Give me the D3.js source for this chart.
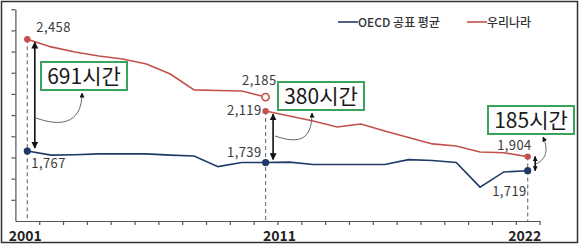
<!DOCTYPE html>
<html>
<head>
<meta charset="utf-8">
<script src="https://cdn.jsdelivr.net/npm/d3@7"></script>
<style>
  body { margin: 0; background: #fff; }
  text { font-family: "Noto Sans CJK KR", "Noto Sans", sans-serif; }
</style>
</head>
<body>
<div class="chart"></div>
<script>
var width = 580,
  height = 246

// data
var years = [2001, 2002, 2003, 2004, 2005, 2006, 2007, 2008, 2009, 2010, 2011,
  2012, 2013, 2014, 2015, 2016, 2017, 2018, 2019, 2020, 2021, 2022]
var korOldYears = years.slice(0, 11)
var korOld = [2458, 2422, 2398, 2379, 2365, 2341, 2294, 2219, 2216, 2214, 2185]
var korNewYears = years.slice(10)
var korNew = [2119, 2096, 2072, 2044, 2058, 2025, 1994, 1964, 1954, 1926, 1922, 1904]
var oecd = [1767, 1757, 1758, 1760, 1760, 1760, 1757, 1755, 1729, 1739, 1739,
  1740, 1734, 1734, 1734, 1734, 1746, 1744, 1739, 1679, 1716, 1719]
var tickYears = [2001, 2011, 2022]
var legendNames = ['OECD 공표 평균', '우리나라']

var red = '#c4504c',
  navy = '#1f3a68',
  green = '#3aa45a'

var svg = d3.select('.chart')
  .append('svg')
  .attr('width', width)
  .attr('height', height)

// outer frame
svg.append('rect')
  .attr('x', 1.5).attr('y', 1.5)
  .attr('width', 576).attr('height', 241)
  .attr('fill', 'none')
  .attr('stroke', '#333')
  .attr('stroke-width', 1.5)

var defs = svg.append('defs')
defs.append('marker')
  .attr('id', 'head')
  .attr('viewBox', '0 0 10 10')
  .attr('refX', 9).attr('refY', 5)
  .attr('markerWidth', 7).attr('markerHeight', 7)
  .attr('markerUnits', 'userSpaceOnUse')
  .attr('orient', 'auto-start-reverse')
  .append('path')
  .attr('d', 'M0,0 L10,5 L0,10 z')
  .attr('fill', '#111')
defs.append('marker')
  .attr('id', 'headSmall')
  .attr('viewBox', '0 0 10 10')
  .attr('refX', 9).attr('refY', 5)
  .attr('markerWidth', 5).attr('markerHeight', 5)
  .attr('markerUnits', 'userSpaceOnUse')
  .attr('orient', 'auto-start-reverse')
  .append('path')
  .attr('d', 'M0,0 L10,5 L0,10 z')
  .attr('fill', '#111')

// SCALES  (the picture draws the two lines on different vertical scales)
var xScale = d3.scaleLinear()
  .domain([2000.5, 2022.5])
  .range([15.4, 539.6])

var yKor = d3.scaleLinear()
  .domain([1600, 2600])
  .range([221, 9.2])

var yOecd = d3.scaleLinear()
  .domain([1600, 2100])
  .range([219.5, 14.5])

// AXES
var xAxis = svg.append('g')
  .attr('transform', 'translate(0,221)')
  .call(d3.axisBottom(xScale)
    .tickValues(d3.range(2001.5, 2023, 1))
    .tickSize(4)
    .tickSizeOuter(0)
    .tickFormat(''))
xAxis.selectAll('path, line').attr('stroke', '#555').attr('stroke-width', 1.2)

var yAxis = svg.append('g')
  .attr('transform', 'translate(15.4,0)')
  .call(d3.axisLeft(yKor)
    .tickValues(d3.range(1700, 2601, 100))
    .tickSize(4)
    .tickSizeOuter(0)
    .tickFormat(''))
yAxis.selectAll('path, line').attr('stroke', '#555').attr('stroke-width', 1.2)

var labelShift = {2001: -2, 2011: 14, 2022: -3}
svg.selectAll('.year')
  .data(tickYears)
  .enter()
  .append('text')
  .attr('x', function(d) { return xScale(d) + labelShift[d] })
  .attr('y', 241)
  .attr('text-anchor', 'middle')
  .attr('font-size', 14)
  .attr('font-weight', 'bold')
  .attr('fill', '#222')
  .text(function(d) { return d })

// dashed guides
var guides = [
  {year: 2001, top: yKor(korOld[0])},
  {year: 2011, top: yKor(korNew[0])},
  {year: 2022, top: yKor(korNew[korNew.length - 1])}
]
svg.selectAll('.guide')
  .data(guides)
  .enter()
  .append('line')
  .attr('x1', function(d) { return xScale(d.year) })
  .attr('x2', function(d) { return xScale(d.year) })
  .attr('y1', function(d) { return d.top })
  .attr('y2', 221)
  .attr('stroke', '#777')
  .attr('stroke-width', 1.2)
  .attr('stroke-dasharray', '4,3')

// LINES
var lineKor = d3.line()
  .x(function(d) { return xScale(d[0]) })
  .y(function(d) { return yKor(d[1]) })
var lineOecd = d3.line()
  .x(function(d) { return xScale(d[0]) })
  .y(function(d) { return yOecd(d[1]) })

svg.append('path')
  .attr('d', lineKor(d3.zip(korOldYears, korOld)))
  .attr('fill', 'none').attr('stroke', red).attr('stroke-width', 1.6)
svg.append('path')
  .attr('d', lineKor(d3.zip(korNewYears, korNew)))
  .attr('fill', 'none').attr('stroke', red).attr('stroke-width', 1.6)
svg.append('path')
  .attr('d', lineOecd(d3.zip(years, oecd)))
  .attr('fill', 'none').attr('stroke', navy).attr('stroke-width', 1.6)

// points
var korDots = [[2001, korOld[0], true], [2011, korOld[10], false], [2011, korNew[0], true], [2022, korNew[11], true]]
svg.selectAll('.kdot')
  .data(korDots)
  .enter()
  .append('circle')
  .attr('cx', function(d) { return xScale(d[0]) })
  .attr('cy', function(d) { return yKor(d[1]) })
  .attr('r', function(d) { return d[2] ? 3.2 : 3.6 })
  .attr('fill', function(d) { return d[2] ? red : '#fff' })
  .attr('stroke', red)
  .attr('stroke-width', function(d) { return d[2] ? 0 : 1.6 })

var oecdDots = [[2001, oecd[0]], [2011, oecd[10]], [2022, oecd[21]]]
svg.selectAll('.odot')
  .data(oecdDots)
  .enter()
  .append('circle')
  .attr('cx', function(d) { return xScale(d[0]) })
  .attr('cy', function(d) { return yOecd(d[1]) })
  .attr('r', 3.6)
  .attr('fill', navy)

// value labels
var fmt = d3.format(',')
var valueLabels = [
  {year: 2001, v: korOld[0], s: yKor, dx: 9, dy: -7, anchor: 'start'},
  {year: 2001, v: oecd[0], s: yOecd, dx: 4, dy: 17, anchor: 'start'},
  {year: 2011, v: korOld[10], s: yKor, dx: 11, dy: -12, anchor: 'end'},
  {year: 2011, v: korNew[0], s: yKor, dx: -4, dy: 4, anchor: 'end'},
  {year: 2011, v: oecd[10], s: yOecd, dx: -4, dy: -6, anchor: 'end'},
  {year: 2022, v: korNew[11], s: yKor, dx: 4, dy: -7, anchor: 'end'},
  {year: 2022, v: oecd[21], s: yOecd, dx: -1, dy: 25, anchor: 'end'}
]
svg.selectAll('.vlab')
  .data(valueLabels)
  .enter()
  .append('text')
  .attr('x', function(d) { return xScale(d.year) + d.dx })
  .attr('y', function(d) { return d.s(d.v) + d.dy })
  .attr('text-anchor', function(d) { return d.anchor })
  .attr('font-size', 13)
  .attr('letter-spacing', 0.4)
  .attr('fill', '#3a3a3a')
  .text(function(d) { return fmt(d.v) })

// gap annotations
var gaps = [
  {year: 2001, hi: korOld[0], lo: oecd[0], inset: 3, head: 'head', bx: 41, by: 62, curve: 'M36,118 C58,126 82,126 82,93'},
  {year: 2011, hi: korNew[0], lo: oecd[10], inset: 3, head: 'head', bx: 278, by: 82, curve: 'M275,136 C296,143 312,143 312,113'},
  {year: 2022, hi: korNew[11], lo: oecd[21], inset: 0, head: 'headSmall', bx: 488, by: 106, curve: 'M536,164 C549,158 547,146 543,137'}
]
svg.selectAll('.gapArrow')
  .data(gaps)
  .enter()
  .append('line')
  .attr('x1', function(d) { return xScale(d.year) + 7.5 })
  .attr('x2', function(d) { return xScale(d.year) + 7.5 })
  .attr('y1', function(d) { return yKor(d.hi) + d.inset })
  .attr('y2', function(d) { return yOecd(d.lo) - d.inset })
  .attr('stroke', '#111')
  .attr('stroke-width', 1.6)
  .attr('marker-start', function(d) { return 'url(#' + d.head + ')' })
  .attr('marker-end', function(d) { return 'url(#' + d.head + ')' })

svg.selectAll('.gapCurve')
  .data(gaps)
  .enter()
  .append('path')
  .attr('d', function(d) { return d.curve })
  .attr('fill', 'none')
  .attr('stroke', '#666')
  .attr('stroke-width', 1)
  .attr('marker-end', 'url(#headSmall)')

var boxes = svg.selectAll('.gapBox')
  .data(gaps)
  .enter()
  .append('g')
  .attr('transform', function(d) { return 'translate(' + d.bx + ',' + d.by + ')' })
boxes.append('rect')
  .attr('width', 86).attr('height', 28)
  .attr('fill', '#fff')
  .attr('stroke', green)
  .attr('stroke-width', 2)
boxes.append('text')
  .attr('x', 43).attr('y', 21.5)
  .attr('text-anchor', 'middle')
  .attr('font-size', 21)
  .attr('font-weight', 400)
  .attr('fill', '#1a1a1a')
  .text(function(d) { return (d.hi - d.lo) + '시간' })

// LEGEND
var legend = svg.selectAll('.legend')
  .data(legendNames)
  .enter()
  .append('g')
  .attr('transform', function(d, i) { return 'translate(' + [338, 467][i] + ',22)' })
legend.append('line')
  .attr('x1', 0).attr('x2', 20)
  .attr('stroke', function(d, i) { return [navy, red][i] })
  .attr('stroke-width', 1.6)
legend.append('text')
  .attr('x', 20).attr('y', 4.5)
  .attr('font-size', 12)
  .attr('font-weight', 500)
  .attr('fill', '#333')
  .text(function(d) { return d })
</script>
</body>
</html>
